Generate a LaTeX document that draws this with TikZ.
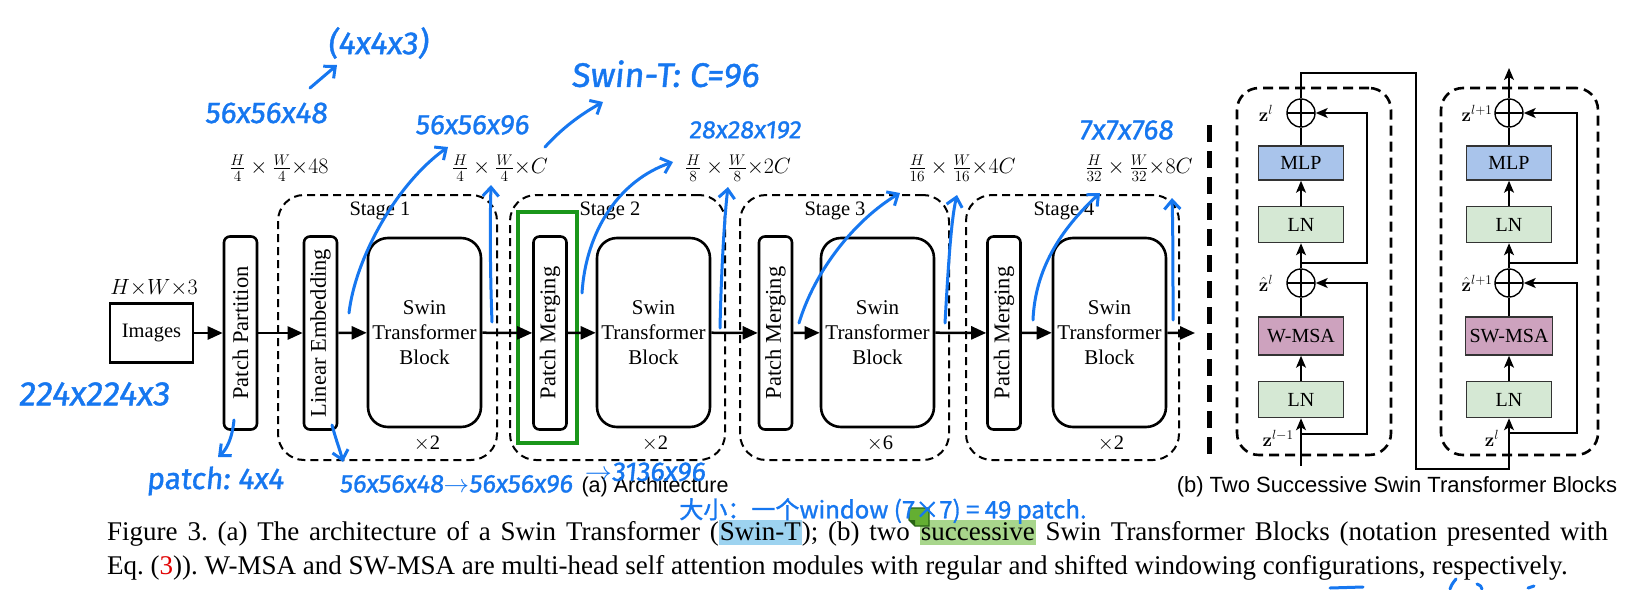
\RequirePackage{fix-cm}
\documentclass[tikz,border=0pt]{standalone}
\usepackage[no-math]{fontspec}
\setmainfont{Liberation Serif}
\setsansfont{Liberation Sans}
\newfontfamily\handfont{Fira Sans}[FakeSlant=0.1,FakeBold=1.2]
\newfontfamily\cjkfont{Noto Sans CJK SC}[FakeBold=1.2]
\usepackage{graphicx}
\usetikzlibrary{arrows.meta}
\frenchspacing
\definecolor{inkblue}{RGB}{22,119,240}
\definecolor{mlpfill}{RGB}{169,196,235}
\definecolor{lnfill}{RGB}{213,232,212}
\definecolor{msafill}{RGB}{205,162,190}
\definecolor{greenhl}{RGB}{26,150,26}
\definecolor{hlblue}{RGB}{157,211,240}
\definecolor{hlgreen}{RGB}{168,214,140}
\definecolor{notegreen}{RGB}{100,175,50}
\definecolor{notedark}{RGB}{40,100,20}
\definecolor{capred}{RGB}{225,0,0}
\newcommand\markhl[2]{{\setlength{\fboxsep}{0pt}\colorbox{#1}{\vrule height 20pt depth 5pt width 0pt\kern1pt #2\kern1pt}}}
\begin{document}
\begin{tikzpicture}[x=1pt,y=-1pt,
 plainbox/.style={draw, line width=2.6pt, minimum width=83pt, minimum height=59pt, inner sep=0pt, font=\fontsize{20.5}{24}\selectfont},
 tallbox/.style={draw, line width=2.6pt, rounded corners=6pt, minimum width=33pt, minimum height=193pt, inner sep=0pt, font=\fontsize{22.5}{26}\selectfont},
 swinbox/.style={draw, line width=2.6pt, rounded corners=20pt, minimum width=113pt, minimum height=189pt, inner sep=0pt, align=center, font=\fontsize{21}{25}\selectfont},
 stagebox/.style={draw, line width=2pt, dash pattern=on 8pt off 5pt, rounded corners=26pt, inner sep=0pt, minimum height=265pt},
 flow/.style={line width=2.5pt, -{Triangle[length=15pt,width=13pt]}},
 lab/.style={font=\fontsize{20.5}{24}\selectfont, inner sep=0pt},
 mathlab/.style={font=\fontsize{22}{26}\selectfont, inner sep=0pt},
 blk/.style={draw=black!80, line width=1.5pt, minimum width=85pt, minimum height=36pt, inner sep=0pt, font=\fontsize{20}{24}\selectfont},
 opl/.style={circle, draw, line width=1.4pt, minimum size=28pt, inner sep=0pt,
   path picture={\draw[line width=1.4pt] (path picture bounding box.north) -- (path picture bounding box.south) (path picture bounding box.west) -- (path picture bounding box.east);}},
 wire/.style={line width=1.4pt},
 wtip/.style={wire, -{Stealth[length=12pt,width=10pt,inset=3pt]}},
 blkbox/.style={draw, line width=2.6pt, dash pattern=on 10pt off 6pt, rounded corners=22pt, inner sep=0pt, minimum height=367pt},
 zlab/.style={font=\fontsize{19}{22}\selectfont, inner sep=0pt},
 ink/.style={draw=inkblue, line width=3pt, line cap=round, line join=round},
 inkarrow/.style={ink, -{Straight Barb[length=9pt,width=16pt]}},
 hand/.style={text=inkblue, inner sep=0pt}
]
\useasboundingbox (0,0) rectangle (1632,589);
\fill[white] (0,0) rectangle (1632,589);

% ---------------- (a) architecture ----------------
\node[stagebox, minimum width=219pt] (st1) at (387.5,327.5) {};
\node[stagebox, minimum width=215pt] (st2) at (617.5,327.5) {};
\node[stagebox, minimum width=209pt] (st3) at (844.5,327.5) {};
\node[stagebox, minimum width=213pt] (st4) at (1072.5,327.5) {};
\node[lab] (st1l) at (380,211) {Stage 1};
\node[lab] (st2l) at (610,211) {Stage 2};
\node[lab] (st3l) at (835,211) {Stage 3};
\node[lab] (st4l) at (1064,211) {Stage 4};

\node[draw=greenhl, line width=4pt, minimum width=59pt, minimum height=231pt, inner sep=0pt] (grn) at (547.5,327.5) {};

\node[plainbox] (img) at (151.5,333) {Images};
\node[mathlab] (hw3) at (154,288) {$H{\times}W{\times}3$};
\node[tallbox] (pp) at (240.5,333) {\rotatebox{90}{Patch Partition}};
\node[tallbox] (le) at (320.5,333) {\rotatebox{90}{Linear Embedding}};
\node[swinbox] (sw1) at (424.5,332.5) {Swin\\Transformer\\Block};
\node[tallbox] (pm2) at (550,333) {\rotatebox{90}{Patch Merging}};
\node[swinbox] (sw2) at (653.5,332.5) {Swin\\Transformer\\Block};
\node[tallbox] (pm3) at (775.5,333) {\rotatebox{90}{Patch Merging}};
\node[swinbox] (sw3) at (877.5,332.5) {Swin\\Transformer\\Block};
\node[tallbox] (pm4) at (1004,333) {\rotatebox{90}{Patch Merging}};
\node[swinbox] (sw4) at (1109.5,332.5) {Swin\\Transformer\\Block};
\coordinate (outa) at (1195,333);

\node[lab] (x1) at (427,444) {$\times$2};
\node[lab] (x2) at (655,444) {$\times$2};
\node[lab] (x3) at (880,444) {$\times$6};
\node[lab] (x4) at (1111,444) {$\times$2};

\node[mathlab] (d0) at (279,168) {$\frac{H}{4}\times\frac{W}{4}{\times}48$};
\node[mathlab] (d1) at (500,168) {$\frac{H}{4}\times\frac{W}{4}{\times}C$};
\node[mathlab] (d2) at (738,168) {$\frac{H}{8}\times\frac{W}{8}{\times}2C$};
\node[mathlab] (d3) at (962,168) {$\frac{H}{16}\times\frac{W}{16}{\times}4C$};
\node[mathlab] (d4) at (1139,168) {$\frac{H}{32}\times\frac{W}{32}{\times}8C$};

\draw[flow] (img) -- (pp);
\draw[flow] (pp) -- (le);
\draw[flow] (le) -- (sw1);
\draw[flow] (sw1) -- (pm2);
\draw[flow] (pm2) -- (sw2);
\draw[flow] (sw2) -- (pm3);
\draw[flow] (pm3) -- (sw3);
\draw[flow] (sw3) -- (pm4);
\draw[flow] (pm4) -- (sw4);
\draw[flow] (sw4) -- (outa);

% divider
\coordinate (dv1) at (1209,125);
\coordinate (dv2) at (1209,460);
\draw[line width=5pt, dash pattern=on 17pt off 9pt] (dv1) -- (dv2);

% ---------------- (b) two blocks ----------------
\node[blkbox, minimum width=154pt] (ba) at (1314,271.5) {};
\node[blkbox, minimum width=157pt] (bb) at (1519.5,271.5) {};

\node[opl] (o1a) at (1301,113) {};
\node[blk, fill=mlpfill, minimum height=34pt] (mlpa) at (1301,163) {MLP};
\node[blk, fill=lnfill] (ln2a) at (1301,224.5) {LN};
\node[opl] (o2a) at (1301,283) {};
\node[blk, fill=msafill, minimum height=38pt] (msaa) at (1301,336) {W-MSA};
\node[blk, fill=lnfill] (ln1a) at (1301,399.5) {LN};

\node[opl] (o1b) at (1509,113) {};
\node[blk, fill=mlpfill, minimum height=34pt] (mlpb) at (1509,163) {MLP};
\node[blk, fill=lnfill] (ln2b) at (1509,224.5) {LN};
\node[opl] (o2b) at (1509,283) {};
\node[blk, fill=msafill, minimum height=38pt, minimum width=87pt] (msab) at (1509,336) {SW-MSA};
\node[blk, fill=lnfill] (ln1b) at (1509,399.5) {LN};

\coordinate (ina) at (1301,466);
\coordinate (ja1) at (1301,434);
\coordinate (ja2) at (1301,263);
\coordinate (topa) at (1301,73);
\coordinate (bend1) at (1416,73);
\coordinate (bend2) at (1416,469);
\coordinate (inb) at (1509,469);
\coordinate (jb1) at (1509,433);
\coordinate (jb2) at (1509,263);
\coordinate (outb) at (1509,68);

\draw[wtip] (ina) -- (ln1a);
\draw[wtip] (ln1a) -- (msaa);
\draw[wire] (msaa) -- (o2a);
\draw[wtip] (o2a) -- (ln2a);
\draw[wtip] (ln2a) -- (mlpa);
\draw[wire] (mlpa) -- (o1a);
\draw[wtip] (ja1) -- ++(66,0) |- (o2a.east);
\draw[wtip] (ja2) -- ++(66,0) |- (o1a.east);
\draw[wtip] (o1a.north) -- (topa) -- (bend1) -- (bend2) -- (inb) -- (ln1b);

\draw[wtip] (ln1b) -- (msab);
\draw[wire] (msab) -- (o2b);
\draw[wtip] (o2b) -- (ln2b);
\draw[wtip] (ln2b) -- (mlpb);
\draw[wire] (mlpb) -- (o1b);
\draw[wtip] (jb1) -- ++(68,0) |- (o2b.east);
\draw[wtip] (jb2) -- ++(68,0) |- (o1b.east);
\draw[wtip] (o1b.north) -- (outb);

\node[zlab] (za1) at (1266,113) {$\mathbf{z}^{l}$};
\node[zlab] (za2) at (1266,283) {$\hat{\mathbf{z}}^{l}$};
\node[zlab] (za3) at (1278,438) {$\mathbf{z}^{l-1}$};
\node[zlab] (zb1) at (1477,113) {$\mathbf{z}^{l+1}$};
\node[zlab] (zb2) at (1477,283) {$\hat{\mathbf{z}}^{l+1}$};
\node[zlab] (zb3) at (1492,438) {$\mathbf{z}^{l}$};

% ---------------- sub captions & caption ----------------
\node[inner sep=0pt, font=\sffamily\fontsize{21.5}{25}\selectfont] (suba) at (655,487) {(a) Architecture};
\node[inner sep=0pt, font=\sffamily\fontsize{22}{25}\selectfont] (subb) at (1397,487) {(b) Two Successive Swin Transformer Blocks};

\node[anchor=base west, inner sep=0pt, font=\fontsize{27}{34}\selectfont] (cap1) at (107,540)
 {\makebox[1501pt][s]{Figure 3. (a) The architecture of a Swin Transformer (\markhl{hlblue}{Swin-T}); (b) two \markhl{hlgreen}{successive} Swin Transformer Blocks (notation presented with}};
\node[anchor=base west, inner sep=0pt, font=\fontsize{27}{34}\selectfont] (cap2) at (107,574)
 {Eq. (\textcolor{capred}{3})). W-MSA and SW-MSA are multi-head self attention modules with regular and shifted windowing configurations, respectively.};

% sticky note icon
\path[fill=notegreen, draw=notedark, line width=1.2pt] (909,508) -- (929,508) -- (929,526) -- (915,526) -- (909,520) -- cycle;
\path[fill=notedark] (909,520) -- (915,520) -- (915,526) -- cycle;

% ---------------- handwritten annotations ----------------
\node[hand, font=\handfont\fontsize{32}{36}\selectfont] (n443) at (378,43) {(4x4x3)};
\node[hand, font=\handfont\fontsize{30}{34}\selectfont] (n56a) at (266,113) {56x56x48};
\node[hand, font=\handfont\fontsize{28}{32}\selectfont] (n56b) at (472,125) {56x56x96};
\node[hand, font=\handfont\fontsize{34}{38}\selectfont] (nswt) at (665,74) {Swin-T: C=96};
\node[hand, font=\handfont\fontsize{25}{30}\selectfont] (n28) at (745,130) {28x28x192};
\node[hand, font=\handfont\fontsize{28}{32}\selectfont] (n7) at (1126,130) {7x7x768};
\node[hand, font=\handfont\fontsize{34}{38}\selectfont] (n224) at (94,394) {224x224x3};
\node[hand, font=\handfont\fontsize{30}{34}\selectfont] (npat) at (215,481) {patch: 4x4};
\node[hand, font=\handfont\fontsize{25.5}{30}\selectfont] (nemb) at (456,484) {56x56x48{$\rightarrow$}56x56x96};
\node[hand, font=\handfont\fontsize{27}{30}\selectfont] (n3136) at (645,472) {{$\rightarrow$}3136x96};
\node[hand, font=\cjkfont\fontsize{24}{28}\selectfont] (ncjk) at (883,511) {大小：一个window (7×7) = 49 patch.};

\draw[inkarrow] (310,88) -- (337,65);
\draw[inkarrow] (349,313) .. controls (355,260) and (395,185) .. (448,147);
\draw[inkarrow] (492,322) .. controls (490,270) and (490,220) .. (491,185);
\draw[inkarrow] (545,147) .. controls (565,125) and (585,112) .. (603,102);
\draw[inkarrow] (582,293) .. controls (586,230) and (620,180) .. (673,162);
\draw[inkarrow] (720,328) .. controls (721,280) and (724,220) .. (728,187);
\draw[inkarrow] (799,323) .. controls (815,270) and (855,220) .. (900,193);
\draw[inkarrow] (945,323) .. controls (948,270) and (951,220) .. (957,195);
\draw[inkarrow] (1033,320) .. controls (1035,270) and (1060,230) .. (1100,193);
\draw[inkarrow] (1173,320) .. controls (1173,280) and (1173,230) .. (1172,198);
\draw[inkarrow] (234,420) .. controls (232,440) and (226,450) .. (218,457);
\draw[inkarrow] (332,425) .. controls (336,440) and (340,450) .. (343,462);

% partial strokes at the bottom edge
\draw[ink] (1330,588) -- (1363,587);
\draw[ink] (1450,589) .. controls (1452,584) .. (1456,579);
\draw[ink] (1477,584) .. controls (1481,586) .. (1482,589);
\draw[ink] (1528,588) -- (1534,586);
\end{tikzpicture}
\end{document}
